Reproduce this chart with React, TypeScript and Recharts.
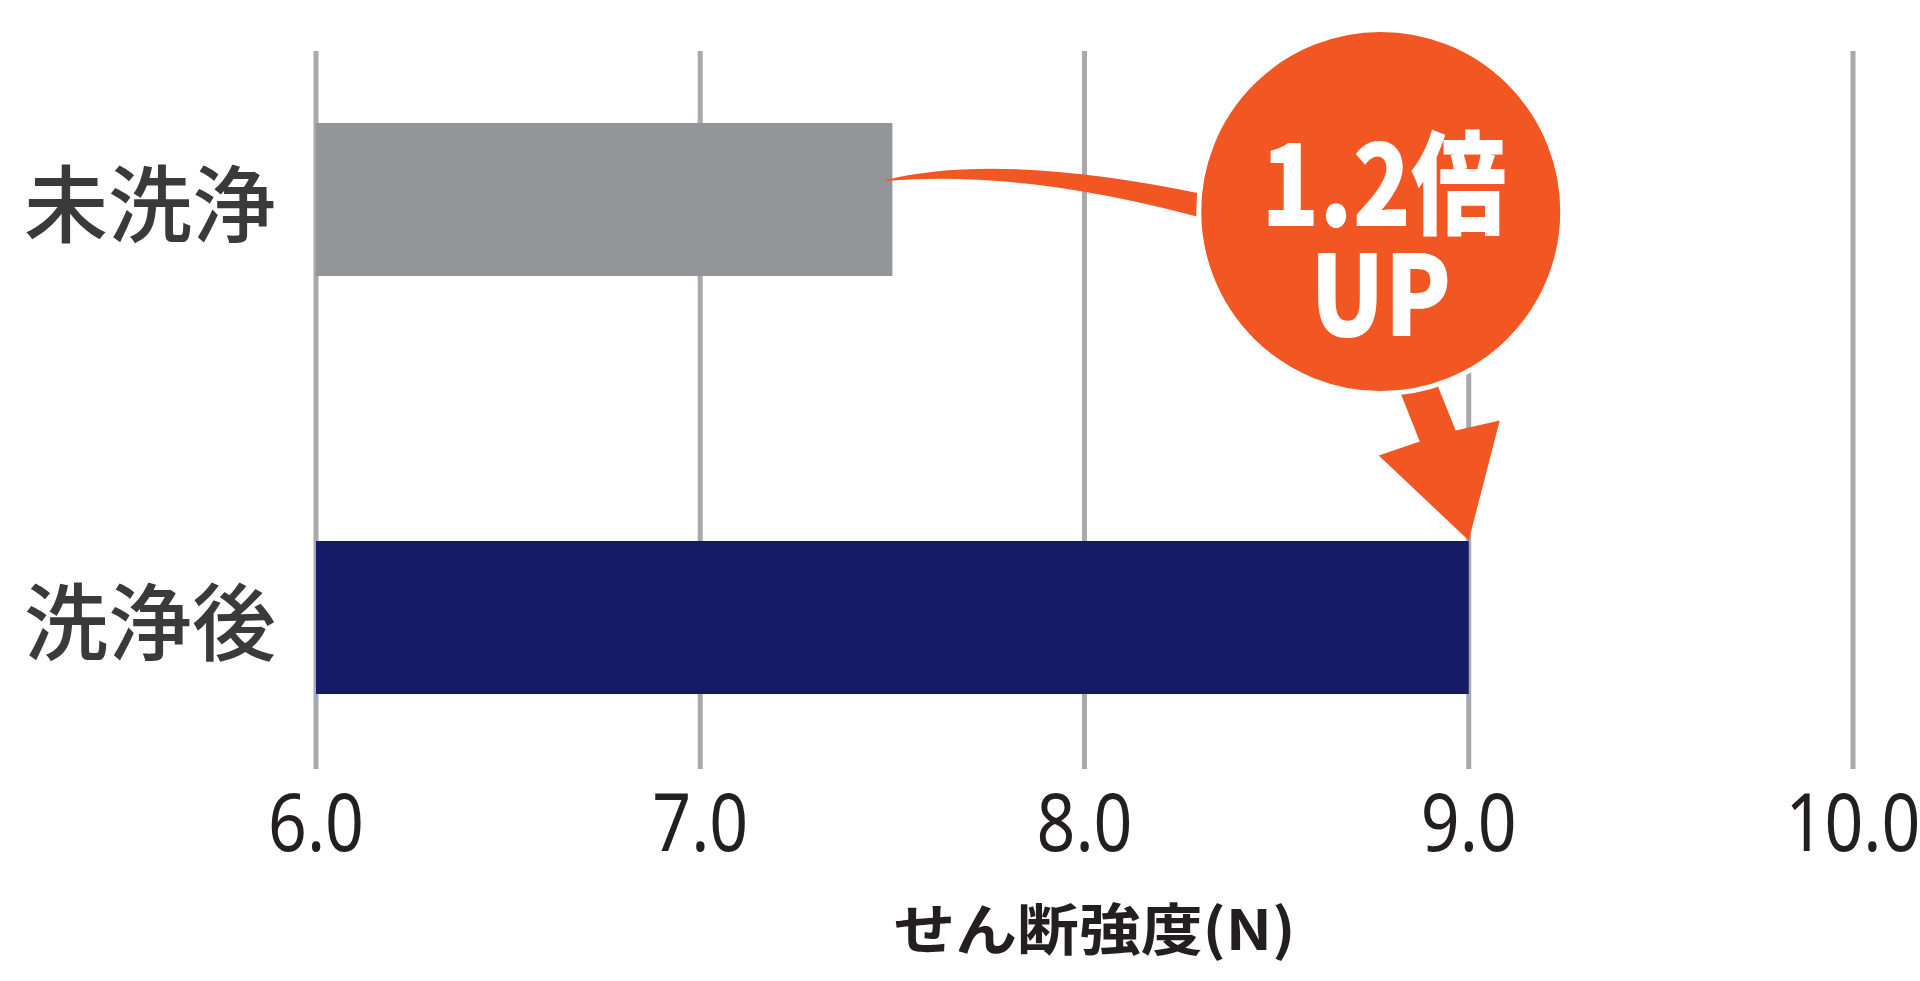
import { BarChart, Bar, Cell, XAxis, YAxis, CartesianGrid, ReferenceLine, Label } from "recharts";

const categories = ["未洗浄", "洗浄後"];
const strengths = [7.5, 9.0];
const barColors = ["#939598", "#151a66"];
const xTicks = [6, 7, 8, 9, 10];
const xTitle = "せん断強度(N)";
const badgeLines = ["1.2倍", "UP"];

const ORANGE = "#f15623";
const BAR_SIZE = 153;
const JP_FONT = '"Noto Sans CJK JP", "Noto Sans", sans-serif';

const data = categories.map((name, i) => ({ name, value: strengths[i] }));

const YTick = (props: any) => {
  const { x, y, payload } = props;
  return (
    <text
      x={x}
      y={y}
      textAnchor="end"
      dominantBaseline="central"
      fontFamily={JP_FONT}
      fontWeight={500}
      fontSize={84}
      fill="#3a3a3a"
    >
      {payload.value}
    </text>
  );
};

const XTick = (props: any) => {
  const { x, y, payload } = props;
  const label = Number(payload.value).toFixed(1);
  return (
    <g transform={`translate(${x},${y + 25}) scale(0.85,1)`}>
      <text x={0} y={0} textAnchor="middle" fontFamily='"Noto Sans", sans-serif' fontSize={80} fill="#231f20">
        {label}
      </text>
    </g>
  );
};

const XTitle = (props: any) => {
  const { viewBox } = props;
  const cx = viewBox.x + viewBox.width / 2 + 10;
  return (
    <text
      x={cx}
      y={viewBox.y + 124}
      textAnchor="middle"
      fontFamily={JP_FONT}
      fontWeight={700}
      fontSize={56}
      fill="#231f20"
      textLength={402}
      lengthAdjust="spacingAndGlyphs"
    >
      {xTitle}
    </text>
  );
};

// curved pointer from the first bar into the badge, then an arrow down to the second bar
const UpBadge = (props: any) => {
  const { x1, y1, x2, y2 } = props;
  const sx = x1;
  const sy = y1 - 19;
  const tx = x2;
  const ty = y2 - BAR_SIZE / 2;
  const cx = tx - 88;
  const cy = ty - 329;

  const curve =
    `M ${sx - 7} ${sy} Q ${sx + 109} ${sy - 28} ${sx + 310} ${sy + 14} ` +
    `L ${sx + 310} ${sy + 38} Q ${sx + 129} ${sy - 11} ${sx - 7} ${sy + 1} Z`;

  const arrow = [
    [0, 0],
    [-90, -85],
    [-49, -99],
    [-74, -162],
    [-34, -162],
    [-13, -110],
    [31, -120],
  ]
    .map(([dx, dy]) => `${tx + dx},${ty + dy}`)
    .join(" ");

  return (
    <g>
      <path d={curve} fill={ORANGE} />
      <polygon points={arrow} fill={ORANGE} />
      <circle cx={cx} cy={cy} r={182} fill={ORANGE} stroke="#ffffff" strokeWidth={5} />
      <text
        x={cx + 3}
        y={cy + 14}
        textAnchor="middle"
        fontFamily={JP_FONT}
        fontWeight={900}
        fontSize={112}
        fill="#ffffff"
        textLength={245}
        lengthAdjust="spacingAndGlyphs"
      >
        {badgeLines[0]}
      </text>
      <text
        x={cx}
        y={cy + 124}
        textAnchor="middle"
        fontFamily={JP_FONT}
        fontWeight={900}
        fontSize={112}
        fill="#ffffff"
        textLength={141}
        lengthAdjust="spacingAndGlyphs"
      >
        {badgeLines[1]}
      </text>
    </g>
  );
};

const App = () => {
  return (
    <div style={{ position: "absolute", left: 0, top: 0, width: 1920, height: 981, background: "#fff" }}>
      <BarChart
        width={1920}
        height={981}
        data={data}
        layout="vertical"
        margin={{ top: -10, right: 67, left: 0, bottom: 0 }}
      >
        <CartesianGrid horizontal={false} stroke="#a7a9ac" strokeWidth={5} y={51} height={718} />
        <XAxis
          type="number"
          domain={[6, 10]}
          ticks={xTicks}
          axisLine={false}
          tickLine={false}
          tickSize={0}
          tickMargin={0}
          height={155}
          tick={<XTick />}
          interval={0}
        >
          <Label content={<XTitle />} />
        </XAxis>
        <YAxis
          type="category"
          dataKey="name"
          width={316}
          axisLine={false}
          tickLine={false}
          tickSize={0}
          tickMargin={40}
          tick={<YTick />}
        />
        <Bar dataKey="value" barSize={BAR_SIZE} isAnimationActive={false}>
          {data.map((d, i) => (
            <Cell key={d.name} fill={barColors[i]} />
          ))}
        </Bar>
        <ReferenceLine
          segment={[
            { x: strengths[0], y: categories[0] },
            { x: strengths[1], y: categories[1] },
          ]}
          ifOverflow="visible"
          shape={(p: any) => <UpBadge {...p} />}
        />
      </BarChart>
    </div>
  );
};

export default App;
